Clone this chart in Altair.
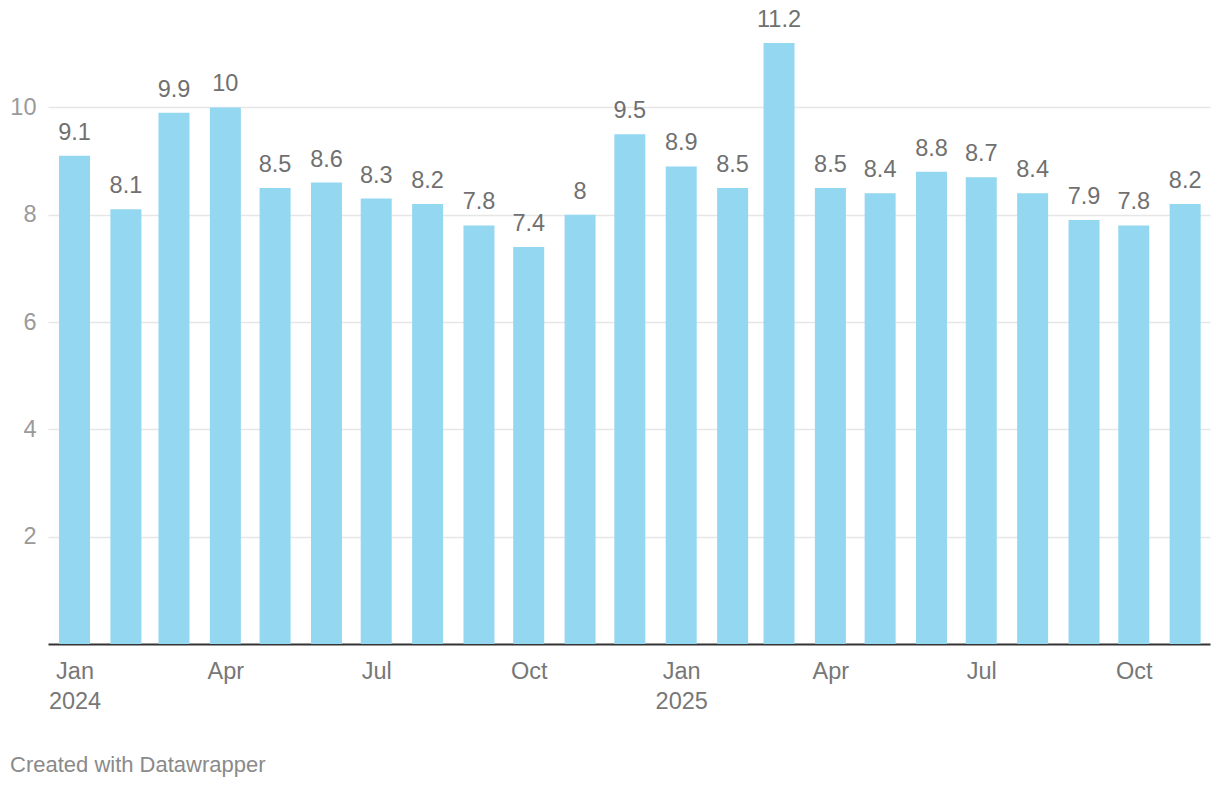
import altair as alt
import pandas as pd

# Data (monthly values, Jan 2024 - Nov 2025)
months = [
    "2024-01", "2024-02", "2024-03", "2024-04", "2024-05", "2024-06",
    "2024-07", "2024-08", "2024-09", "2024-10", "2024-11", "2024-12",
    "2025-01", "2025-02", "2025-03", "2025-04", "2025-05", "2025-06",
    "2025-07", "2025-08", "2025-09", "2025-10", "2025-11",
]
values = [
    9.1, 8.1, 9.9, 10, 8.5, 8.6, 8.3, 8.2, 7.8, 7.4, 8, 9.5,
    8.9, 8.5, 11.2, 8.5, 8.4, 8.8, 8.7, 8.4, 7.9, 7.8, 8.2,
]
y_ticks = [2, 4, 6, 8, 10]
x_ticks = [(2024, 1), (2024, 4), (2024, 7), (2024, 10),
           (2025, 1), (2025, 4), (2025, 7), (2025, 10)]
footer = "Created with Datawrapper"

df = pd.DataFrame({"date": [m + "-01T00:00" for m in months], "value": values})

FONT = "Liberation Sans, Arial, Helvetica, sans-serif"
BAR = "#94d7f1"

x = alt.X(
    "date:T",
    scale=alt.Scale(domain=[alt.DateTime(year=2023, month=12, date=16),
                            alt.DateTime(year=2025, month=11, date=16)],
                    padding=0),
    axis=alt.Axis(
        title=None,
        values=[alt.DateTime(year=yy, month=mm, date=1) for yy, mm in x_ticks],
        labelExpr="month(datum.value) == 0 ? [timeFormat(datum.value, '%b'), timeFormat(datum.value, '%Y')] : timeFormat(datum.value, '%b')",
        ticks=False,
        grid=False,
        domain=True,
        domainColor="#333333",
        domainWidth=2,
        labelFont=FONT,
        labelFontSize=23.5,
        labelColor="#777777",
        labelPadding=15,
        labelLineHeight=30,
        labelAlign="center",
        labelBaseline="top",
        labelOverlap=False,
    ),
)
y = alt.Y(
    "value:Q",
    scale=alt.Scale(domain=[0, 11.2], nice=False, zero=True),
    axis=alt.Axis(
        title=None,
        values=y_ticks,
        format="~g",
        ticks=False,
        domain=False,
        grid=True,
        gridColor="#e6e6e6",
        gridWidth=1.5,
        labelFont=FONT,
        labelFontSize=23.5,
        labelColor="#9a9a9a",
        labelPadding=12,
    ),
)

bars = alt.Chart(df).mark_bar(width=31, color=BAR).encode(x=x, y=y)

labels = alt.Chart(df).mark_text(
    font=FONT, fontSize=23.5, color="#707070", baseline="alphabetic", dy=-16
).encode(x="date:T", y="value:Q", text=alt.Text("value:Q", format="~g"))

foot = alt.Chart(pd.DataFrame({"t": [footer]})).mark_text(
    font=FONT, fontSize=22, color="#8a8a8a", align="left", baseline="middle"
).encode(x=alt.value(-38), y=alt.value(722), text="t:N")

chart = alt.layer(bars, labels, foot).properties(
    width=1162,
    height=601,
    background="white",
    autosize=alt.AutoSizeParams(type="none"),
    padding={"left": 40, "top": 35, "right": 2, "bottom": 134},
).configure_view(strokeWidth=0)

chart.save("out.html", embed_options={"renderer": "svg", "actions": False})
